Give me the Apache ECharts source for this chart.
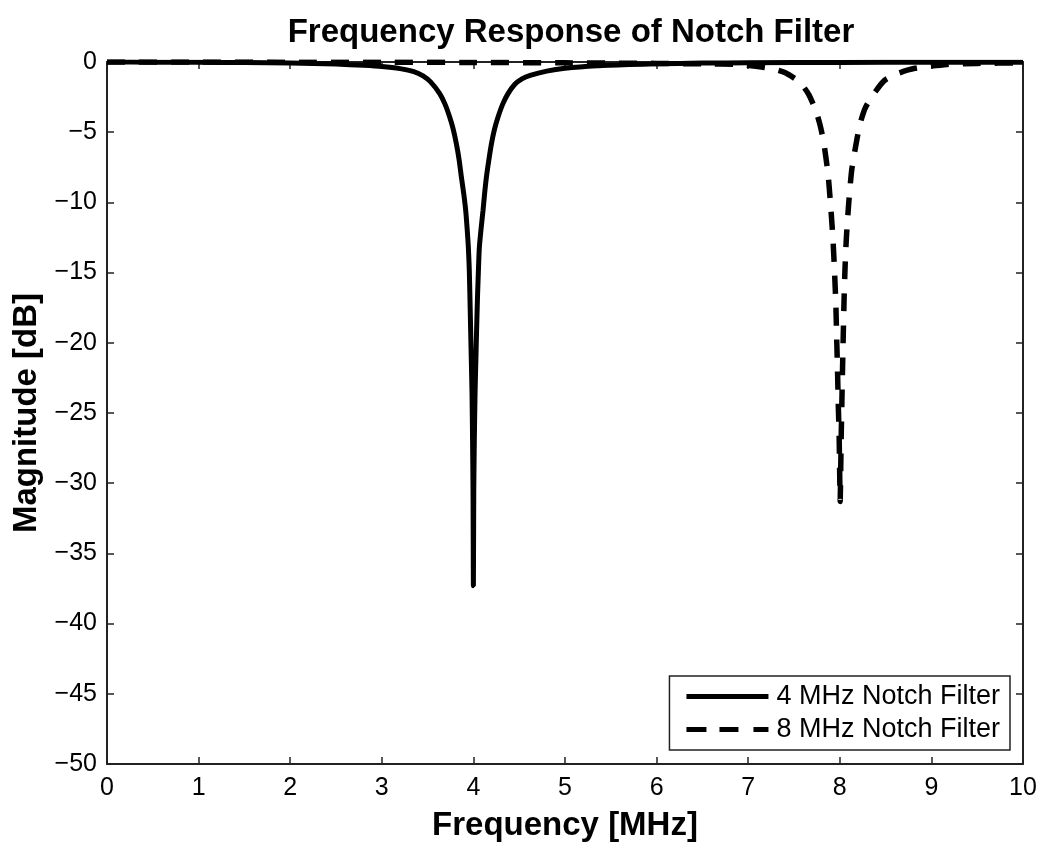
<!DOCTYPE html>
<html>
<head>
<meta charset="utf-8">
<title>Frequency Response of Notch Filter</title>
<script src="https://cdn.jsdelivr.net/npm/echarts@6/dist/echarts.min.js"></script>
<style>
    html, body { margin: 0; padding: 0; background: #fff; }
    #chart { width: 1050px; height: 855px; }
</style>
</head>
<body>
<div id="chart"></div>
<script>
    // values: frequency [MHz] and magnitude [dB]
    const notch4Freq = [0, 0.5, 1, 1.5, 2, 2.5, 2.8, 3, 3.2, 3.35, 3.45, 3.53, 3.632, 3.69, 3.741, 3.78, 3.814, 3.845, 3.869, 3.895,
        3.916, 3.932, 3.945, 3.955, 3.962, 3.969, 3.977, 3.985, 3.991, 3.996, 4, 4.004, 4.01, 4.018, 4.027, 4.036, 4.045,
        4.055, 4.065, 4.085, 4.105, 4.122, 4.142,
        4.168, 4.197, 4.23, 4.269, 4.32, 4.378, 4.45, 4.53, 4.62, 4.8, 5, 5.35, 5.7, 6, 6.5, 7, 8, 9, 10];
    const notch4Mag = [0, -0.01, -0.02, -0.04, -0.08, -0.15, -0.24, -0.32, -0.47, -0.68, -0.98, -1.4, -2.25, -3.0, -3.92, -4.8, -5.82, -7.0, -8.2, -9.4,
        -10.57, -11.9, -13.2, -14.8, -16.7, -18.8, -21.2, -23.6, -27.0, -30.5, -37.3, -30.5, -27.0, -23.6, -21.2, -18.8, -16.7,
        -14.8, -13.2, -11.8, -10.57, -9.4, -8.2,
        -7.0, -5.82, -4.8, -3.92, -3.0, -2.25, -1.6, -1.2, -0.95, -0.65, -0.45, -0.27, -0.18, -0.13, -0.08, -0.06, -0.03, -0.02, -0.01];

    const notch8Freq = [0, 1, 2, 3, 4, 5, 5.5, 6, 6.5, 6.91, 7.24, 7.4, 7.562, 7.66, 7.737, 7.785, 7.824, 7.871, 7.901, 7.926,
        7.943, 7.957, 7.966, 7.975, 7.983, 7.993, 7.998, 8.004, 8.01, 8.016, 8.023, 8.03, 8.038, 8.046, 8.057, 8.072,
        8.097, 8.13, 8.188, 8.23, 8.283, 8.39, 8.49, 8.64, 8.82, 9.17, 9.5, 10];
    const notch8Mag = [0, -0.005, -0.01, -0.02, -0.03, -0.06, -0.08, -0.1, -0.13, -0.18, -0.45, -0.75, -1.43, -2.3, -3.44, -4.5, -5.7, -7.95, -10.3, -12.7,
        -15.0, -17.3, -19.7, -21.9, -24.3, -26.7, -29.0, -31.3, -29.0, -26.4, -24.1, -21.8, -19.4, -17.1, -14.7, -12.5,
        -10.1, -7.7, -5.46, -4.2, -3.2, -2.1, -1.3, -0.8, -0.45, -0.17, -0.1, -0.06];

    const seriesNames = ['4 MHz Notch Filter', '8 MHz Notch Filter'];

    const axisColor = '#222';
    const fontFamily = 'Liberation Sans, Arial, sans-serif';

    function pairs(xs, ys) {
        return xs.map((x, i) => [x, ys[i]]);
    }

    let myChart = echarts.init(document.getElementById('chart'));
    let option = {
        backgroundColor: '#fff',
        animation: false,
        textStyle: { fontFamily: fontFamily, color: '#000' },
        title: {
            text: 'Frequency Response of Notch Filter',
            left: 566,
            textAlign: 'center',
            top: 11,
            textStyle: { fontSize: 33, fontWeight: 'bold', color: '#000', fontFamily: fontFamily }
        },
        grid: { left: 107, right: 27, top: 62, bottom: 91, containLabel: false },
        legend: {
            orient: 'vertical',
            right: 40,
            bottom: 105,
            data: [
                { name: seriesNames[0], icon: 'path://M0,0H82V5H0Z' },
                { name: seriesNames[1], icon: 'path://M0,0H20V5H0Z M33,0H52V5H33Z M67,0H82V5H67Z' }
            ],
            itemWidth: 82,
            itemHeight: 5,
            itemGap: 6,
            padding: [7, 10, 7, 17],
            backgroundColor: '#fff',
            borderColor: '#222',
            borderWidth: 1.5,
            borderRadius: 0,
            textStyle: { fontSize: 27, color: '#000', fontFamily: fontFamily, padding: [0, 0, 0, 3] }
        },
        xAxis: [
            {
                type: 'value',
                min: 0,
                max: 10,
                interval: 1,
                name: 'Frequency [MHz]',
                nameLocation: 'middle',
                nameGap: 45,
                nameTextStyle: { fontSize: 33, fontWeight: 'bold', color: '#000' },
                axisLine: { show: true, onZero: false, lineStyle: { color: axisColor, width: 2 } },
                axisTick: { inside: true, length: 7, lineStyle: { color: axisColor, width: 1.5 } },
                axisLabel: { fontSize: 25, color: '#000', margin: 12 },
                splitLine: { show: false }
            },
            {
                type: 'value',
                position: 'top',
                min: 0,
                max: 10,
                interval: 1,
                axisLine: { show: true, onZero: false, lineStyle: { color: axisColor, width: 2 } },
                axisTick: { inside: true, length: 7, lineStyle: { color: axisColor, width: 1.5 } },
                axisLabel: { show: false },
                splitLine: { show: false }
            }
        ],
        yAxis: [
            {
                type: 'value',
                min: -50,
                max: 0,
                interval: 5,
                name: 'Magnitude [dB]',
                nameLocation: 'middle',
                nameGap: 64,
                nameTextStyle: { fontSize: 33, fontWeight: 'bold', color: '#000' },
                axisLine: { show: true, onZero: false, lineStyle: { color: axisColor, width: 2 } },
                axisTick: { inside: true, length: 7, lineStyle: { color: axisColor, width: 1.5 } },
                axisLabel: {
                    fontSize: 25,
                    color: '#000',
                    margin: 10,
                    formatter: v => String(v).replace('-', '\u2212')
                },
                splitLine: { show: false }
            },
            {
                type: 'value',
                position: 'right',
                min: -50,
                max: 0,
                interval: 5,
                axisLine: { show: true, onZero: false, lineStyle: { color: axisColor, width: 2 } },
                axisTick: { inside: true, length: 7, lineStyle: { color: axisColor, width: 1.5 } },
                axisLabel: { show: false },
                splitLine: { show: false }
            }
        ],
        series: [
            {
                name: seriesNames[0],
                type: 'line',
                xAxisIndex: 0,
                yAxisIndex: 0,
                data: pairs(notch4Freq, notch4Mag),
                symbol: 'none',
                smooth: 0.2,
                lineStyle: { color: '#000', width: 5, type: 'solid' },
                itemStyle: { color: '#000' },
                z: 3
            },
            {
                name: seriesNames[1],
                type: 'line',
                xAxisIndex: 0,
                yAxisIndex: 0,
                data: pairs(notch8Freq, notch8Mag),
                symbol: 'none',
                smooth: 0.2,
                lineStyle: { color: '#000', width: 5.5, type: [18, 14] },
                itemStyle: { color: '#000' },
                z: 2
            }
        ]
    };
    myChart.setOption(option);
</script>
</body>
</html>
